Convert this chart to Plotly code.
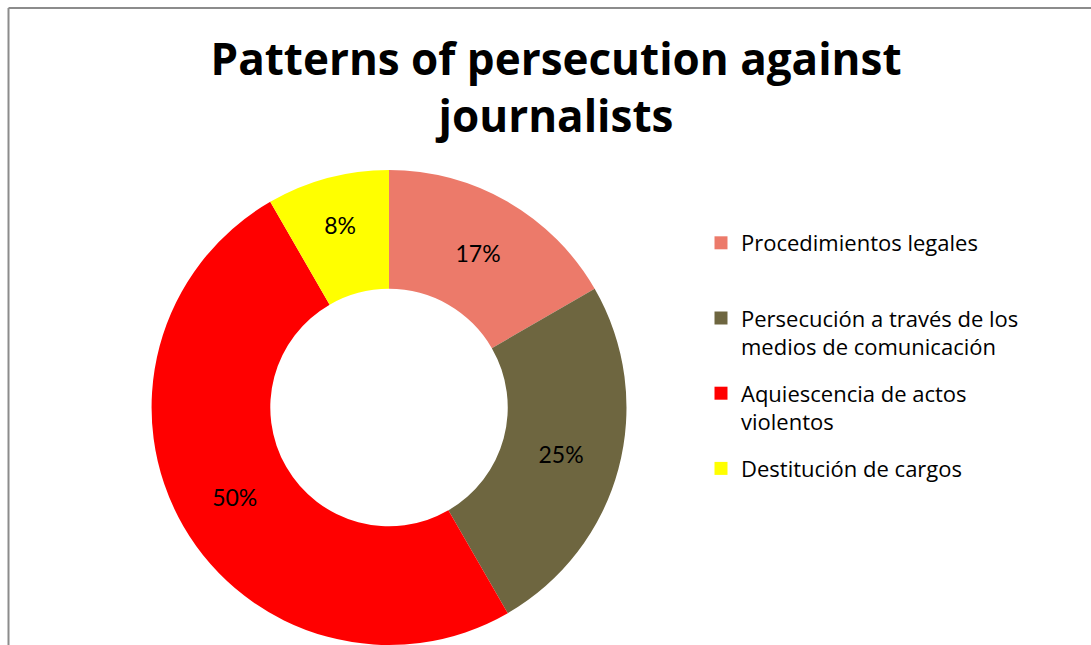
import plotly.graph_objects as go

# Data
title_text = "Patterns of persecution against<br>journalists"
categories = [
    "Procedimientos legales",
    "Persecución a través de los<br>medios de comunicación",
    "Aquiescencia de actos<br>violentos",
    "Destitución de cargos",
]
legend_labels = [
    "Procedimientos legales<br> ",
    "Persecución a través de los<br>medios de comunicación",
    "Aquiescencia de actos<br>violentos",
    "Destitución de cargos",
]
counts = [2, 3, 6, 1]
colors = ["#EC7A6A", "#6E6640", "#FF0000", "#FFFF00"]

W, H = 1091, 645

fig = go.Figure()
fig.add_trace(go.Pie(
    labels=categories,
    values=counts,
    sort=False,
    direction="clockwise",
    rotation=0,
    hole=0.5,
    marker=dict(colors=colors, line=dict(width=0)),
    texttemplate="%{percent:.0%}",
    textposition="inside",
    insidetextorientation="horizontal",
    textfont=dict(family="Lato, sans-serif", size=23, color="black"),
    showlegend=False,
    hoverinfo="skip",
    domain=dict(x=[151.5 / W, 626.5 / W], y=[0, (H - 170) / H]),
))

# legend entries (one per category, each in its own group)
for i, (lab, col) in enumerate(zip(legend_labels, colors)):
    fig.add_trace(go.Scatter(
        x=[None], y=[None], mode="markers",
        marker=dict(symbol="square", size=13, color=col),
        name=lab, legendgroup=f"g{i}", showlegend=True,
    ))

fig.update_layout(
    width=W, height=H,
    margin=dict(l=0, r=0, t=0, b=0),
    paper_bgcolor="white", plot_bgcolor="white",
    xaxis=dict(visible=False), yaxis=dict(visible=False),
    title=dict(
        text="<b>" + title_text + "</b>",
        x=556 / W, xanchor="center",
        y=1 - 75 / H, yanchor="top", yref="container",
        font=dict(family="Open Sans, sans-serif", size=44, color="black"),
    ),
    legend=dict(
        x=(741 - 40) / W, xanchor="left",
        y=1 - 222 / H, yanchor="top",
        traceorder="grouped", tracegroupgap=15,
        valign="top",
        font=dict(family="Open Sans, sans-serif", size=22, color="black"),
        bgcolor="rgba(0,0,0,0)",
    ),
    shapes=[
        dict(type="line", xref="paper", yref="paper",
             x0=8.5 / W, x1=8.5 / W, y0=1 - 8 / H, y1=-0.05,
             line=dict(color="#8C8C8C", width=2)),
        dict(type="line", xref="paper", yref="paper",
             x0=8.5 / W, x1=1.05, y0=1 - 8 / H, y1=1 - 8 / H,
             line=dict(color="#8C8C8C", width=2)),
    ],
)

fig.write_html("out.html")
